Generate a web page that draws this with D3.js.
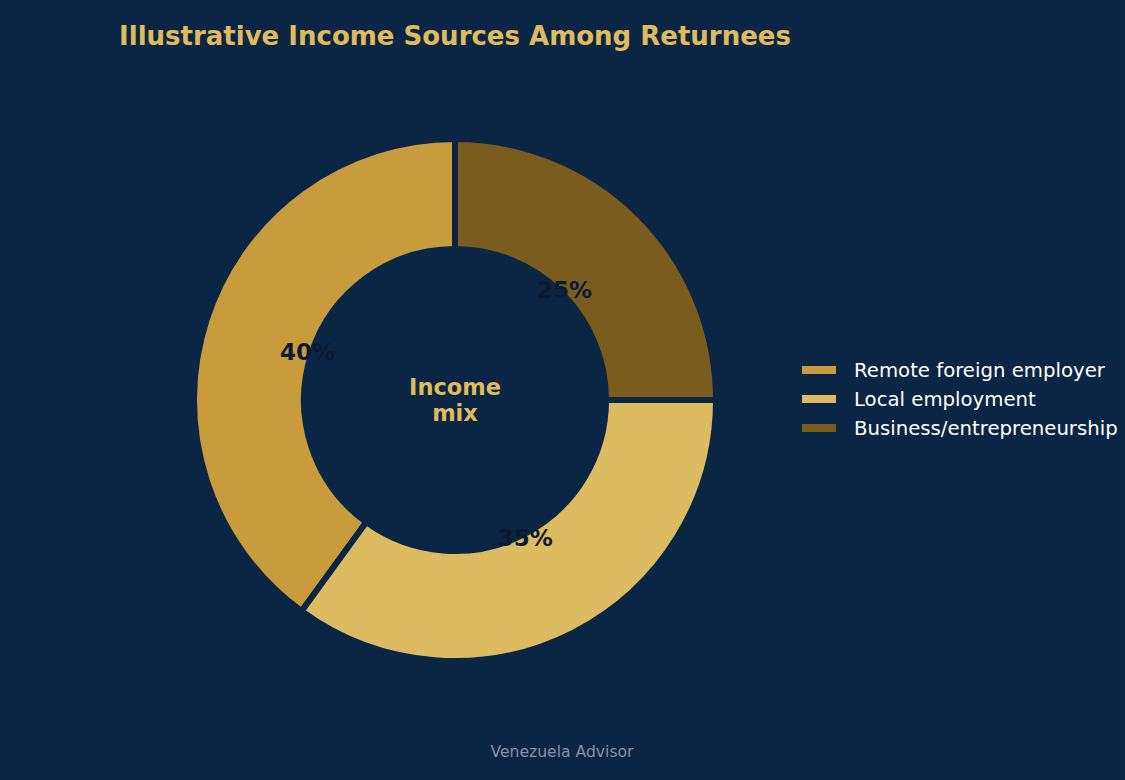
<!DOCTYPE html>
<html lang="en">
<head>
    <meta charset="UTF-8">
    <title>Illustrative Income Sources Among Returnees</title>
    <script src="https://d3js.org/d3.v7.min.js"></script>
    <style>
        body { margin: 0; background: #0b2644; }
        text { font-family: "DejaVu Sans", sans-serif; }
    </style>
</head>
<body>
    <svg id="chart" width="1125" height="780"></svg>
    <script>
        // data
        var categories = ["Remote foreign employer", "Local employment", "Business/entrepreneurship"];
        var shares = [40, 35, 25];
        var colors = ["#c89b3c", "#ddbb60", "#7a5c1e"];

        var bg = "#0b2644",
            gold = "#e0bb5e";

        var svg = d3.select("#chart");
        svg.append("rect").attr("width", 1125).attr("height", 780).attr("fill", bg);

        var cx = 455, cy = 400, outerR = 261, innerR = 151;

        var data = categories.map(function (c, i) {
            return { name: c, value: shares[i], color: colors[i] };
        });

        // start at top, go counterclockwise
        var pie = d3.pie()
            .value(function (d) { return d.value; })
            .sort(null)
            .startAngle(0)
            .endAngle(-2 * Math.PI);

        var arc = d3.arc().innerRadius(innerR).outerRadius(outerR);
        var labelArc = d3.arc().innerRadius(155).outerRadius(155);

        var g = svg.append("g").attr("transform", "translate(" + cx + "," + cy + ")");

        var arcs = pie(data);

        g.selectAll("path")
            .data(arcs)
            .enter().append("path")
            .attr("d", arc)
            .attr("fill", function (d) { return d.data.color; })
            .attr("stroke", bg)
            .attr("stroke-width", 6)
            .attr("stroke-linejoin", "miter");

        g.selectAll("text.pct")
            .data(arcs)
            .enter().append("text")
            .attr("class", "pct")
            .attr("transform", function (d) { return "translate(" + labelArc.centroid(d) + ")"; })
            .attr("text-anchor", "middle")
            .attr("dy", "0.35em")
            .attr("font-size", 23)
            .attr("font-weight", "bold")
            .attr("fill", "#0b1a33")
            .text(function (d) { return d.data.value + "%"; });

        // center label
        var center = g.append("text")
            .attr("text-anchor", "middle")
            .attr("font-size", 22.5)
            .attr("font-weight", "bold")
            .attr("fill", gold);
        center.append("tspan").attr("x", 0).attr("y", -5).text("Income");
        center.append("tspan").attr("x", 0).attr("y", 21).text("mix");

        // title
        svg.append("text")
            .attr("x", 455)
            .attr("y", 45)
            .attr("text-anchor", "middle")
            .attr("font-size", 26)
            .attr("font-weight", "bold")
            .attr("fill", gold)
            .text("Illustrative Income Sources Among Returnees");

        // legend
        var legend = svg.append("g").attr("transform", "translate(802,370)");
        var item = legend.selectAll("g")
            .data(data)
            .enter().append("g")
            .attr("transform", function (d, i) { return "translate(0," + i * 29 + ")"; });
        item.append("rect")
            .attr("x", 0).attr("y", -4)
            .attr("width", 34).attr("height", 8)
            .attr("fill", function (d) { return d.color; });
        item.append("text")
            .attr("x", 52)
            .attr("dy", "0.35em")
            .attr("font-size", 19.7)
            .attr("fill", "#ffffff")
            .text(function (d) { return d.name; });

        // footer
        svg.append("text")
            .attr("x", 562)
            .attr("y", 757)
            .attr("text-anchor", "middle")
            .attr("font-size", 15.6)
            .attr("fill", "#8592a8")
            .text("Venezuela Advisor");
    </script>
</body>
</html>
